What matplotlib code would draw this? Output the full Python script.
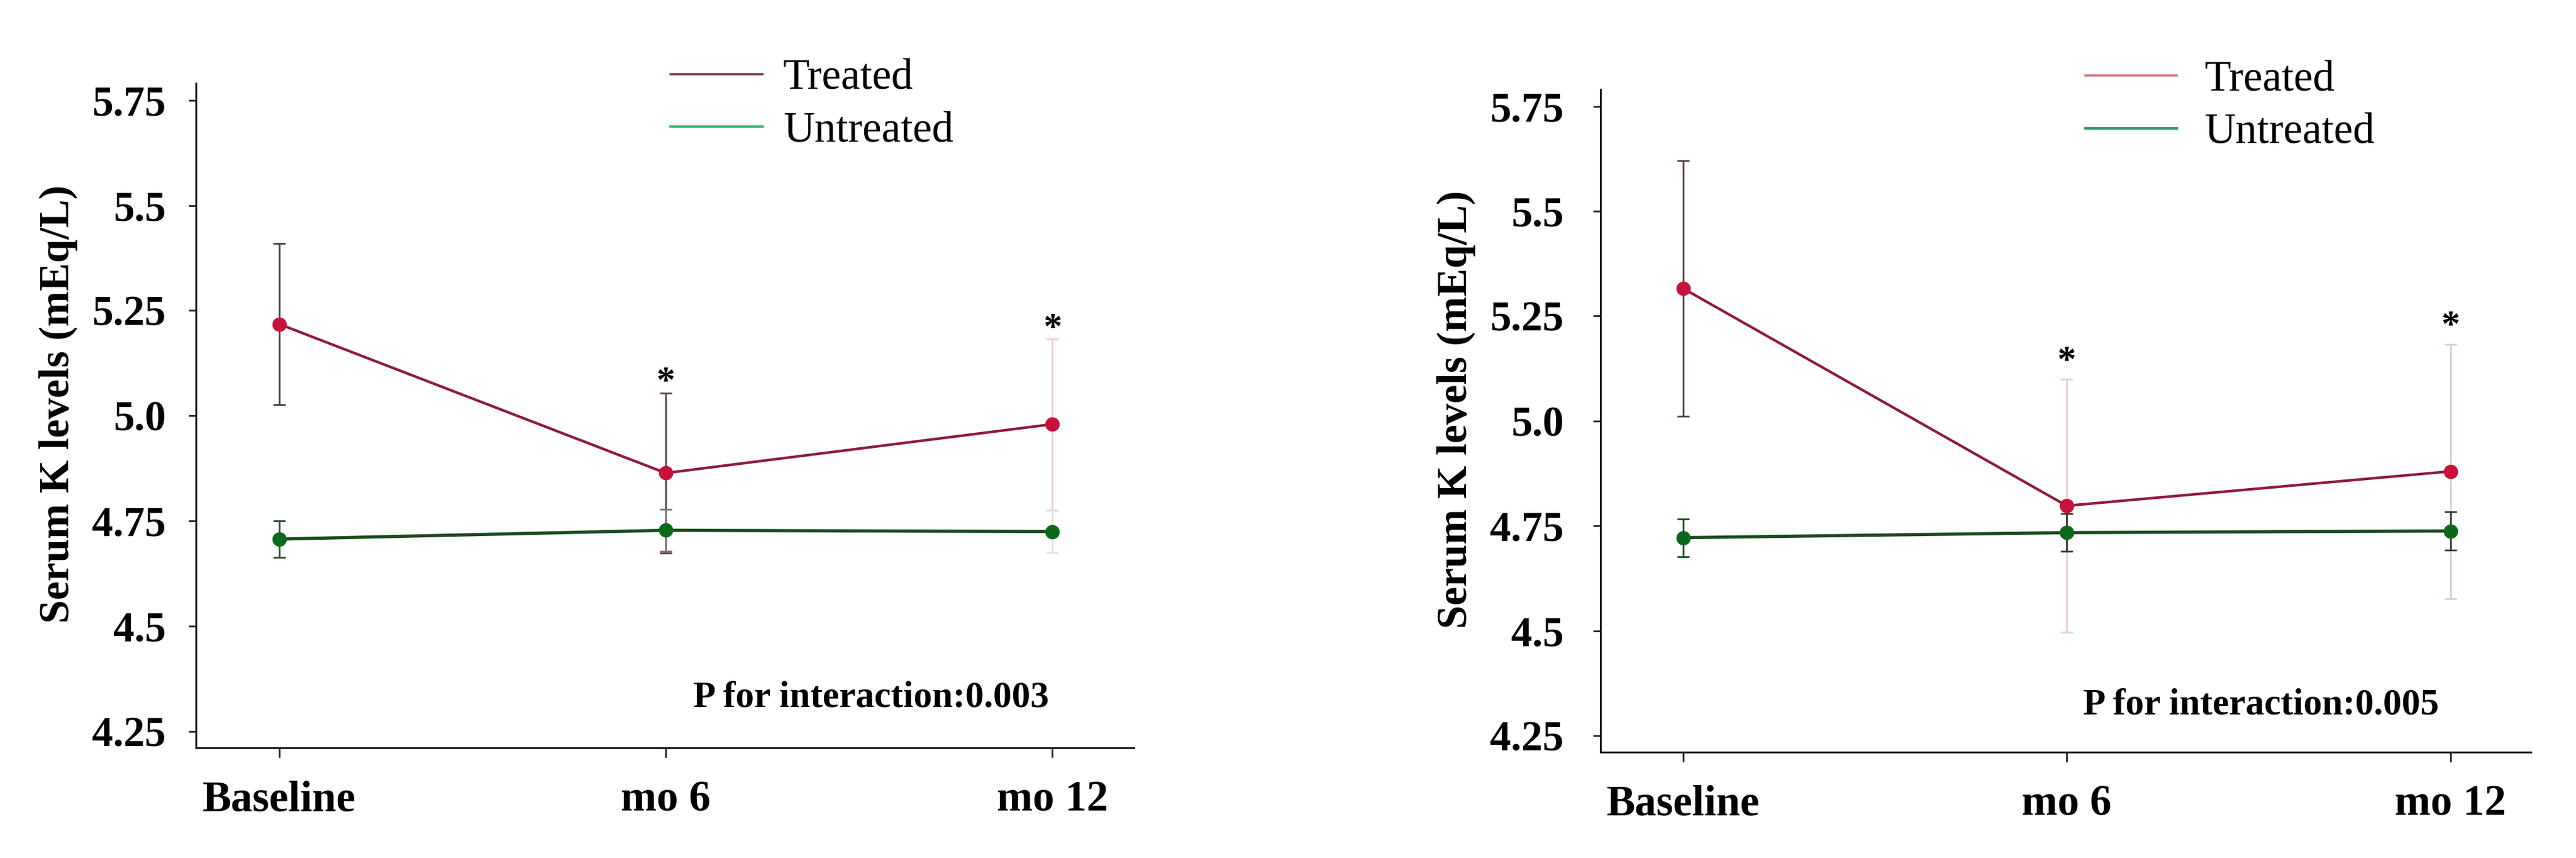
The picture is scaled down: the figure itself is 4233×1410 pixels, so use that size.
import matplotlib
matplotlib.use("Agg")
import matplotlib.pyplot as plt
from matplotlib.lines import Line2D

plt.rcParams['font.family'] = ['Liberation Serif', 'DejaVu Serif']

# ---------------- data ----------------
time_labels = ['Baseline', 'mo 6', 'mo 12']
yticks = [4.25, 4.5, 4.75, 5.0, 5.25, 5.5, 5.75]
ytick_labels = ['4.25', '4.5', '4.75', '5.0', '5.25', '5.5', '5.75']
series_names = ['Treated', 'Untreated']

left_treated_mean = [5.218, 4.864, 4.980]
left_treated_err = [0.192, 0.190, 0.203]
left_untreated_mean = [4.707, 4.728, 4.725]
left_untreated_err = [0.044, 0.050, 0.050]
left_star_idx = [1, 2]
left_star_y = [5.107, 5.234]
left_p_text = 'P for interaction:0.003'

right_treated_mean = [5.316, 4.798, 4.880]
right_treated_err = [0.305, 0.302, 0.303]
right_untreated_mean = [4.722, 4.734, 4.738]
right_untreated_err = [0.045, 0.045, 0.046]
right_star_idx = [1, 2]
right_star_y = [5.169, 5.253]
right_p_text = 'P for interaction:0.005'

# ---------------- styling ----------------
treated_line_col = '#8E1B3C'
treated_marker_col = '#C8123C'
untreated_line_col = '#1C4A1C'
untreated_marker_col = '#0A6A1A'

fig = plt.figure(figsize=(42.33, 14.10), dpi=100)


def draw_panel(rect, tm, te, um, ue, t_ecols, u_ecols, star_idx, star_y,
               ptext, p_pos, leg_cols, leg_anchor, leg_textpad, ypad, ylab_x):
    ax = fig.add_axes(rect)
    x = list(range(len(time_labels)))
    for i in x:
        ax.errorbar(x[i], tm[i], yerr=te[i], fmt='none', ecolor=t_ecols[i],
                    elinewidth=2, capsize=7.5, capthick=2, zorder=2)
        ax.errorbar(x[i], um[i], yerr=ue[i], fmt='none', ecolor=u_ecols[i],
                    elinewidth=2, capsize=7.5, capthick=2, zorder=2)
    ax.plot(x, um, color=untreated_line_col, lw=3.8, zorder=3)
    ax.plot(x, tm, color=treated_line_col, lw=3.1, zorder=3)
    ax.plot(x, um, 'o', ms=17, color=untreated_marker_col, mec='none', zorder=4)
    ax.plot(x, tm, 'o', ms=17, color=treated_marker_col, mec='none', zorder=4)

    for xi, yi in zip(star_idx, star_y):
        ax.annotate('*', xy=(x[xi], yi), xytext=(0, -14), textcoords='offset points',
                    ha='center', va='center', fontsize=44, fontweight='bold')

    ax.text(p_pos[0], p_pos[1], ptext, ha='center', va='baseline',
            fontsize=44, fontweight='bold')

    ax.set_xlim(-0.215, 2.21)
    ax.set_ylim(4.211, 5.79)
    ax.set_xticks(x)
    ax.set_xticklabels(time_labels, fontsize=51, fontweight='bold')
    ax.set_yticks(yticks)
    ax.set_yticklabels(ytick_labels, fontsize=50, fontweight='bold')
    ax.tick_params(axis='y', length=8.6, width=2, pad=ypad, color='#222222')
    ax.tick_params(axis='x', length=11.5, width=2, pad=27, color='#222222')
    for s in ['top', 'right']:
        ax.spines[s].set_visible(False)
    for s in ['left', 'bottom']:
        ax.spines[s].set_linewidth(2.2)
        ax.spines[s].set_color('#1a1a1a')
    ax.set_ylabel('Serum K levels (mEq/L)', fontsize=50, fontweight='bold')
    ax.yaxis.set_label_coords(ylab_x, 0.517)

    handles = [Line2D([], [], color=leg_cols[0], lw=2.6),
               Line2D([], [], color=leg_cols[1], lw=3.2)]
    ax.legend(handles, series_names, loc='upper left', bbox_to_anchor=leg_anchor,
              frameon=False, fontsize=51, handlelength=2.13,
              handletextpad=leg_textpad, labelspacing=0.30, borderpad=0,
              borderaxespad=0)
    return ax


draw_panel([0.07607, 0.12837, 0.3640, 0.7745],
           left_treated_mean, left_treated_err,
           left_untreated_mean, left_untreated_err,
           ['#4B3A45', '#5A4050', '#F2C4D0'],
           ['#2F4A2F', '#85707C', '#D5E8D5'],
           left_star_idx, left_star_y, left_p_text, (1.531, 4.309),
           ['#7B3A44', '#3DBE7A'], (0.506, 1.0366), 0.49, 27, -0.126)

draw_panel([0.62131, 0.1234, 0.36121, 0.77234],
           right_treated_mean, right_treated_err,
           right_untreated_mean, right_untreated_err,
           ['#5A4050', '#E8CCD8', '#E0C8D5'],
           ['#1F4F1F', '#303830', '#2F3F2F'],
           right_star_idx, right_star_y, right_p_text, (1.506, 4.302),
           ['#D47878', '#2A9A62'], (0.521, 1.044), 0.64, 35, -0.134)

fig.savefig('out.png', dpi=100, facecolor='white')
